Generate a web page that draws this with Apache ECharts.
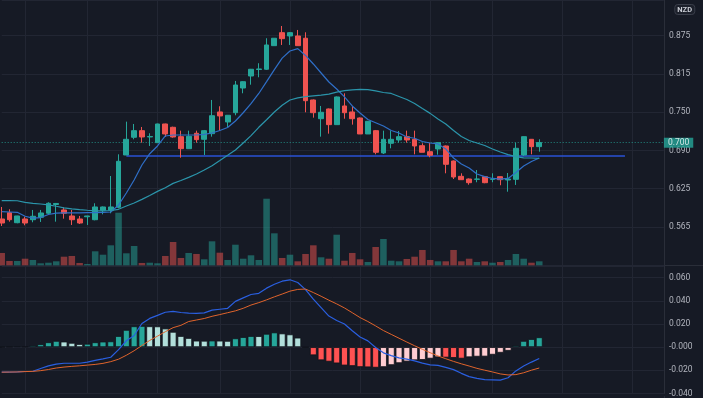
<!DOCTYPE html>
<html><head><meta charset="utf-8">
<script src="https://cdn.jsdelivr.net/npm/echarts@6/dist/echarts.min.js"></script>
<style>html,body{margin:0;padding:0;background:#161a25;overflow:hidden}#c{width:703px;height:398px}</style>
</head><body><div id="c"></div>
<script>
// ---- data ----
const opens = [0.5756,0.5858,0.5695,0.5756,0.5744,0.5783,0.5849,0.5992,0.5903,0.5805,
0.5756,0.5792,0.5744,0.5898,0.5898,0.5947,0.6800,0.7089,0.7197,0.7094,
0.7001,0.7306,0.7252,0.7099,0.6903,0.7154,0.7056,0.7148,0.7502,0.7339,
0.7490,0.7893,0.8089,0.8195,0.8199,0.8584,0.8796,0.8742,0.8742,0.8705,
0.7698,0.7392,0.7551,0.7295,0.7600,0.7502,0.7404,0.7143,0.7197,0.6833,
0.6991,0.7045,0.7099,0.7056,0.6952,0.6854,0.6898,0.6947,0.6702,0.6452,
0.6408,0.6403,0.6446,0.6403,0.6446,0.6392,0.6403,0.6800,0.7056,0.6936];
const closes = [0.5690,0.5744,0.5805,0.5690,0.5800,0.5854,0.6012,0.6009,0.5849,0.5744,
0.5690,0.5805,0.5952,0.5952,0.5952,0.6697,0.7056,0.7197,0.7094,0.7102,
0.7306,0.7143,0.7094,0.6903,0.7105,0.7050,0.7197,0.7441,0.7437,0.7448,
0.7942,0.7996,0.8199,0.8204,0.8595,0.8705,0.8698,0.8796,0.8584,0.7686,
0.7490,0.7497,0.7295,0.7747,0.7490,0.7392,0.7143,0.7350,0.6844,0.7056,
0.7056,0.7099,0.7045,0.6947,0.6844,0.6795,0.7001,0.6648,0.6441,0.6397,
0.6348,0.6408,0.6348,0.6408,0.6397,0.6408,0.6909,0.7099,0.6936,0.7003];
const lows = [0.5641,0.5712,0.5686,0.5653,0.5702,0.5707,0.5832,0.5712,0.5761,0.5658,
0.5674,0.5658,0.5734,0.5832,0.5849,0.5930,0.6800,0.7056,0.7001,0.6947,
0.7001,0.7094,0.7082,0.6756,0.6903,0.7001,0.6800,0.7099,0.7192,0.7252,
0.7448,0.7807,0.7947,0.8068,0.8187,0.8584,0.8595,0.8595,0.8584,0.7497,
0.7409,0.7099,0.7148,0.7295,0.7392,0.7295,0.7143,0.7143,0.6811,0.6816,
0.6909,0.7001,0.7001,0.6811,0.6844,0.6763,0.6805,0.6501,0.6408,0.6392,
0.6315,0.6355,0.6339,0.6355,0.6306,0.6201,0.6311,0.6784,0.6811,0.6854];
const highs = [0.5952,0.5914,0.5808,0.5793,0.5903,0.5903,0.6028,0.6017,0.5947,0.5903,
0.5805,0.5808,0.6012,0.5960,0.6457,0.6811,0.7344,0.7306,0.7257,0.7154,
0.7311,0.7311,0.7262,0.7197,0.7197,0.7197,0.7208,0.7698,0.7595,0.7453,
0.8008,0.8003,0.8204,0.8297,0.8705,0.8708,0.8905,0.8807,0.8840,0.8802,
0.7706,0.7600,0.7559,0.7755,0.7807,0.7600,0.7412,0.7355,0.7208,0.7197,
0.7197,0.7192,0.7197,0.7197,0.6991,0.7001,0.7004,0.6955,0.6710,0.6501,
0.6417,0.6555,0.6452,0.6501,0.6452,0.6506,0.7001,0.7102,0.7061,0.7056];
const volumes = [185,65,65,99,80,30,39,60,129,140,
35,20,210,159,300,789,180,290,35,39,
30,140,350,110,185,170,90,360,189,80,
309,99,150,80,999,480,110,159,60,170,
300,120,99,459,69,185,90,50,275,395,
69,60,95,129,230,80,60,60,230,60,
99,50,60,39,50,80,170,99,39,60];
const maFast = [0.5875,0.5870,0.5865,0.5800,0.5769,0.5779,0.5829,0.5850,0.5854,0.5854,
0.5857,0.5858,0.5858,0.5862,0.5870,0.5984,0.6180,0.6392,0.6637,0.6821,
0.6947,0.7110,0.7126,0.7126,0.7126,0.7126,0.7135,0.7159,0.7200,0.7249,
0.7355,0.7489,0.7637,0.7804,0.7996,0.8194,0.8380,0.8497,0.8536,0.8424,
0.8285,0.8138,0.7991,0.7877,0.7747,0.7600,0.7486,0.7379,0.7326,0.7273,
0.7200,0.7159,0.7094,0.7073,0.7020,0.6996,0.6980,0.6898,0.6751,0.6653,
0.6588,0.6490,0.6446,0.6417,0.6405,0.6417,0.6515,0.6621,0.6694,0.6751];
const maSlow = [0.6054,0.6054,0.6053,0.6027,0.6012,0.6000,0.5987,0.5963,0.5938,0.5922,
0.5909,0.5898,0.5888,0.5888,0.5894,0.5914,0.5968,0.6017,0.6076,0.6139,
0.6206,0.6266,0.6337,0.6384,0.6435,0.6490,0.6555,0.6625,0.6709,0.6795,
0.6882,0.6996,0.7117,0.7252,0.7375,0.7502,0.7611,0.7698,0.7732,0.7753,
0.7766,0.7776,0.7792,0.7825,0.7849,0.7864,0.7872,0.7866,0.7845,0.7820,
0.7804,0.7755,0.7706,0.7641,0.7559,0.7479,0.7388,0.7306,0.7200,0.7102,
0.7037,0.6996,0.6955,0.6898,0.6849,0.6805,0.6772,0.6754,0.6751,0.6746];
const macdLine = [-0.0216,-0.0215,-0.0214,-0.0210,-0.0208,-0.0184,-0.0162,-0.0146,-0.0139,-0.0139,
-0.0139,-0.0129,-0.0114,-0.0102,-0.0087,-0.0022,0.0055,0.0100,0.0204,0.0248,
0.0274,0.0301,0.0308,0.0299,0.0293,0.0292,0.0296,0.0319,0.0327,0.0335,
0.0395,0.0425,0.0454,0.0464,0.0509,0.0542,0.0569,0.0581,0.0558,0.0496,
0.0414,0.0341,0.0268,0.0230,0.0200,0.0141,0.0088,0.0054,-0.0003,-0.0049,
-0.0073,-0.0093,-0.0104,-0.0119,-0.0138,-0.0153,-0.0157,-0.0174,-0.0194,-0.0226,
-0.0254,-0.0269,-0.0280,-0.0282,-0.0284,-0.0264,-0.0205,-0.0163,-0.0129,-0.0098];
const signalLine = [-0.0216,-0.0215,-0.0214,-0.0211,-0.0209,-0.0203,-0.0193,-0.0180,-0.0172,-0.0166,
-0.0161,-0.0155,-0.0149,-0.0140,-0.0125,-0.0104,-0.0070,-0.0031,0.0014,0.0058,
0.0095,0.0133,0.0168,0.0188,0.0221,0.0234,0.0247,0.0266,0.0281,0.0297,
0.0313,0.0335,0.0363,0.0384,0.0408,0.0434,0.0458,0.0483,0.0498,0.0501,
0.0471,0.0439,0.0405,0.0373,0.0338,0.0297,0.0255,0.0221,0.0183,0.0143,
0.0110,0.0077,0.0044,0.0012,-0.0019,-0.0048,-0.0076,-0.0100,-0.0123,-0.0144,
-0.0163,-0.0183,-0.0199,-0.0214,-0.0231,-0.0240,-0.0237,-0.0221,-0.0199,-0.0180];
const macdHist = [0.0002,0.0004,0.0008,0.0006,0.0014,0.0025,0.0042,0.0054,0.0048,0.0037,
0.0027,0.0029,0.0042,0.0048,0.0050,0.0096,0.0149,0.0180,0.0183,0.0180,
0.0179,0.0161,0.0132,0.0096,0.0079,0.0056,0.0055,0.0057,0.0056,0.0054,
0.0076,0.0087,0.0096,0.0095,0.0115,0.0127,0.0118,0.0110,0.0082,-0.0002,
-0.0070,-0.0113,-0.0125,-0.0140,-0.0158,-0.0163,-0.0172,-0.0174,-0.0177,-0.0172,
-0.0155,-0.0138,-0.0124,-0.0113,-0.0110,-0.0099,-0.0087,-0.0090,-0.0093,-0.0099,
-0.0087,-0.0082,-0.0081,-0.0065,-0.0048,-0.0031,0.0014,0.0054,0.0070,0.0085];
const slotCount = 86;                      // 70 bars + empty space on the right
const verticalGridIdx = [3, 11, 20, 28, 37, 46, 55, 63, 72, 81];
const priceTickValues = [0.5, 0.5625, 0.625, 0.6875, 0.75, 0.8125, 0.875];
const priceTickLabels = ['', '0.565', '0.625', '0.690', '0.750', '0.815', '0.875'];
const macdTickValues = [-0.04, -0.02, 0, 0.02, 0.04, 0.06];
const macdTickLabels = ['-0.040', '-0.020', '-0.000', '0.020', '0.040', '0.060'];
const trendLevel = 0.6789, trendStart = 16, trendEnd = 80;
const lastPriceLabel = '0.700';
const currency = 'NZD';

// ---- chart ----
const categories = Array.from({length: slotCount}, (_, i) => 'W' + (i + 1));
const candleData = opens.map((o, i) => [o, closes[i], lows[i], highs[i]]);
const lastPrice = closes[closes.length - 1];
const UP = '#26a69a', DOWN = '#ef5350';
const GRID = '#222633', TXT = '#b2b5be';
const FONT = '"Liberation Sans Narrow", Roboto, sans-serif';

function pickLabel(vals, labels) {
  return v => { for (let i = 0; i < vals.length; i++) if (Math.abs(vals[i] - v) < 1e-6) return labels[i]; return ''; };
}
const xCommon = {
  type: 'category', data: categories, boundaryGap: false,
  axisLine: {show: false}, axisTick: {show: false}, axisLabel: {show: false},
  splitLine: {show: true, interval: (idx) => verticalGridIdx.includes(idx), lineStyle: {color: GRID, width: 1}}
};
const chart = echarts.init(document.getElementById('c'), null, {renderer: 'canvas'});
chart.setOption({
  backgroundColor: '#161a25',
  animation: false,
  title: {text: currency, right: 8, top: 4, padding: [2, 3, 1, 3], borderColor: '#3a3e4a', borderWidth: 1, borderRadius: 3,
          backgroundColor: '#1c202b', textStyle: {color: '#c9ccd4', fontSize: 7.5, fontWeight: 'bold', fontFamily: FONT}},
  grid: [
    {left: 1.7, right: 39.1, top: 0, height: 265.3},
    {left: 1.7, right: 39.1, top: 266, height: 130}
  ],
  xAxis: [Object.assign({gridIndex: 0}, xCommon), Object.assign({gridIndex: 1}, xCommon)],
  yAxis: [
    {gridIndex: 0, type: 'value', position: 'right', min: 0.5, max: 0.9329, interval: 0.0625,
     axisLine: {show: true, lineStyle: {color: '#2a2e39'}}, axisTick: {show: false},
     axisLabel: {color: TXT, fontSize: 8.5, fontFamily: FONT, margin: 5, formatter: pickLabel(priceTickValues, priceTickLabels)},
     splitLine: {lineStyle: {color: GRID}}},
    {gridIndex: 0, type: 'value', min: 0, max: 3980, show: false, splitLine: {show: false}},
    {gridIndex: 1, type: 'value', position: 'right', min: -0.04, max: 0.07, interval: 0.02,
     axisLine: {show: true, lineStyle: {color: '#2a2e39'}}, axisTick: {show: false},
     axisLabel: {color: TXT, fontSize: 8.5, fontFamily: FONT, margin: 5, formatter: pickLabel(macdTickValues, macdTickLabels)},
     splitLine: {lineStyle: {color: GRID}}}
  ],
  graphic: [
    {type: 'line', shape: {x1: 0, y1: 265.5, x2: 703, y2: 265.5}, style: {stroke: '#2a2e39', lineWidth: 1}, silent: true},
    {type: 'line', shape: {x1: 664.4, y1: 396, x2: 664.4, y2: 398}, style: {stroke: '#2a2e39', lineWidth: 1}, silent: true}
  ],
  series: [
    {type: 'bar', name: 'Volume', xAxisIndex: 0, yAxisIndex: 1, data: volumes, barWidth: '84%', z: 1,
     itemStyle: {color: p => closes[p.dataIndex] >= opens[p.dataIndex] ? 'rgba(38,166,154,0.5)' : 'rgba(239,83,80,0.5)'}},
    {type: 'candlestick', name: 'Price', xAxisIndex: 0, yAxisIndex: 0, data: candleData, barWidth: '68%', clip: false, z: 5,
     itemStyle: {color: UP, color0: DOWN, borderColor: UP, borderColor0: DOWN, borderWidth: 1},
     markLine: {symbol: ['none', 'none'], silent: true, animation: false,
       data: [
         {yAxis: lastPrice, lineStyle: {color: UP, type: [1, 2], width: 1, opacity: 0.8},
          label: {show: true, position: 'end', distance: 0, formatter: lastPriceLabel, backgroundColor: UP, color: '#ffffff',
                  padding: [1, 4, 0, 4], fontSize: 8.5, fontFamily: FONT}},
         [{coord: [trendStart, trendLevel], lineStyle: {color: '#2a52d6', width: 1.6, type: 'solid'}, label: {show: false}},
          {coord: [trendEnd, trendLevel]}]
       ]}},
    {type: 'line', name: 'MA fast', xAxisIndex: 0, yAxisIndex: 0, data: maFast, symbol: 'none', z: 6,
     lineStyle: {color: '#2f6fc8', width: 1.2}},
    {type: 'line', name: 'MA slow', xAxisIndex: 0, yAxisIndex: 0, data: maSlow, symbol: 'none', z: 6,
     lineStyle: {color: '#2b95ab', width: 1.2}},
    {type: 'bar', name: 'Histogram', xAxisIndex: 1, yAxisIndex: 2, data: macdHist, barWidth: '88%', z: 2,
     itemStyle: {borderColor: '#10131b', borderWidth: 0.8, color: p => {
       const i = p.dataIndex, v = macdHist[i], prev = i > 0 ? macdHist[i - 1] : 0;
       if (v >= 0) return v >= prev ? '#26a69a' : '#b2dfdb';
       return v < prev ? '#ff5252' : '#ffcdd2';
     }}},
    {type: 'line', name: 'MACD', xAxisIndex: 1, yAxisIndex: 2, data: macdLine, symbol: 'none', z: 4,
     lineStyle: {color: '#2a5fe0', width: 1.2}},
    {type: 'line', name: 'Signal', xAxisIndex: 1, yAxisIndex: 2, data: signalLine, symbol: 'none', z: 4,
     lineStyle: {color: '#e0642c', width: 1}}
  ]
});
</script></body></html>
